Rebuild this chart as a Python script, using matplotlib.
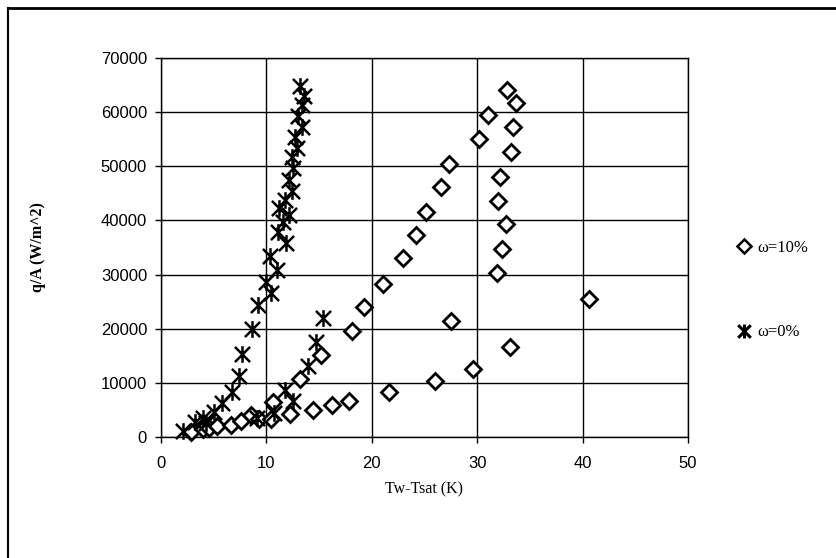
import matplotlib
matplotlib.use("Agg")
import matplotlib.pyplot as plt
from matplotlib.path import Path
from matplotlib.lines import Line2D

# heat flux vs wall superheat, two concentrations
dt_10 = [2.8, 4.0, 4.6, 5.3, 6.6, 7.6, 8.5, 9.3, 10.4, 10.6, 12.2, 13.2, 14.4,
         15.2, 16.2, 17.8, 18.1, 19.3, 21.1, 21.6, 23.0, 24.2, 25.1, 26.0, 26.6,
         27.3, 27.5, 29.6, 30.2, 31.05, 31.9, 32.0, 32.2, 32.4, 32.7, 32.8,
         33.1, 33.2, 33.4, 33.65, 40.6]
q_10 = [1000, 1500, 1700, 2000, 2300, 3000, 4100, 3300, 3400, 6400, 4200, 10800,
        5000, 15100, 5900, 6600, 19600, 24000, 28300, 8300, 33000, 37300, 41600,
        10400, 46100, 50500, 21500, 12600, 55100, 59500, 30200, 43600, 48100,
        34700, 39300, 64000, 16700, 52600, 57300, 61700, 25400]

dt_0 = [2.1, 3.2, 4.0, 4.3, 5.0, 5.8, 6.7, 7.4, 7.7, 8.6, 9.2, 10.0, 10.4, 11.0,
        10.3, 11.85, 11.1, 11.6, 12.1, 11.2, 11.8, 12.4, 12.1, 12.55, 12.4, 12.87,
        12.7, 13.35, 13.03, 13.35, 13.57, 13.19,
        9.1, 10.7, 11.8, 12.55, 13.9, 14.7, 15.4]
q_0 = [1200, 2800, 3500, 2600, 4600, 6300, 8300, 11200, 15400, 20000, 24400,
       28700, 26600, 30900, 33500, 35800, 37900, 39800, 41000, 42300, 43800,
       45400, 47400, 49700, 51800, 53400, 55500, 57300, 59200, 61400, 62900, 64800,
       3500, 4400, 8600, 6600, 13100, 17500, 22000]

x_ticks = [0, 10, 20, 30, 40, 50]
y_ticks = [0, 10000, 20000, 30000, 40000, 50000, 60000, 70000]

# asterisk drawn as an X with a vertical bar
star = Path([(-1, -1), (1, 1), (-1, 1), (1, -1), (0, -1.1), (0, 1.1)],
            [Path.MOVETO, Path.LINETO, Path.MOVETO, Path.LINETO,
             Path.MOVETO, Path.LINETO])

fig = plt.figure(figsize=(8.37, 5.58), dpi=100)
ax = fig.add_axes([161 / 837, 1 - 437 / 558, 527 / 837, 379 / 558])

ax.plot(dt_10, q_10, linestyle="none", marker="D", markersize=8.5,
        markerfacecolor="white", markeredgecolor="black", markeredgewidth=2,
        clip_on=False, zorder=3)
ax.plot(dt_0, q_0, linestyle="none", marker=star, markersize=12,
        markeredgecolor="black", markeredgewidth=1.8, color="black",
        clip_on=False, zorder=4)

ax.set_xlim(0, 50)
ax.set_ylim(0, 70000)
ax.set_xticks(x_ticks)
ax.set_yticks(y_ticks)
ax.grid(True, color="black", linewidth=1.0)
ax.set_axisbelow(True)
for s in ax.spines.values():
    s.set_color("black")
    s.set_linewidth(1.0)
ax.tick_params(direction="out", length=4, width=1, colors="black",
               labelsize=12, pad=6)
for lab in ax.get_xticklabels() + ax.get_yticklabels():
    lab.set_family("Liberation Sans")
ax.tick_params(axis="x", pad=10)

ax.set_xlabel("Tw-Tsat (K)", family="Liberation Serif", fontsize=11.5,
              va="center")
ax.xaxis.set_label_coords(0.5, -0.137)
ax.set_ylabel("q/A (W/m^2)", family="Liberation Serif", fontsize=11.5,
              fontweight="bold", va="center")
ax.yaxis.set_label_coords(-0.233, 0.5)

handles = [
    Line2D([], [], linestyle="none", marker="D", markersize=7.5,
           markerfacecolor="white", markeredgecolor="black", markeredgewidth=1.8),
    Line2D([], [], linestyle="none", marker=star, markersize=10,
           markeredgecolor="black", markeredgewidth=2.2),
]
fig.legend(handles, ["\u03c9=10%", "\u03c9=0%"], loc="upper left",
           bbox_to_anchor=(722 / 837, 1 - 225 / 558), frameon=False,
           prop={"family": "Liberation Serif", "size": 12},
           labelspacing=4.1, handlelength=0.8, handletextpad=0.4)

# outer chart frame
fig.add_artist(Line2D([8 / 837, 8 / 837], [0, 1 - 8 / 558], color="black",
                      linewidth=1.5, transform=fig.transFigure))
fig.add_artist(Line2D([8 / 837, 1], [1 - 8 / 558, 1 - 8 / 558], color="black",
                      linewidth=2, transform=fig.transFigure))

fig.savefig("out.png", dpi=100)
